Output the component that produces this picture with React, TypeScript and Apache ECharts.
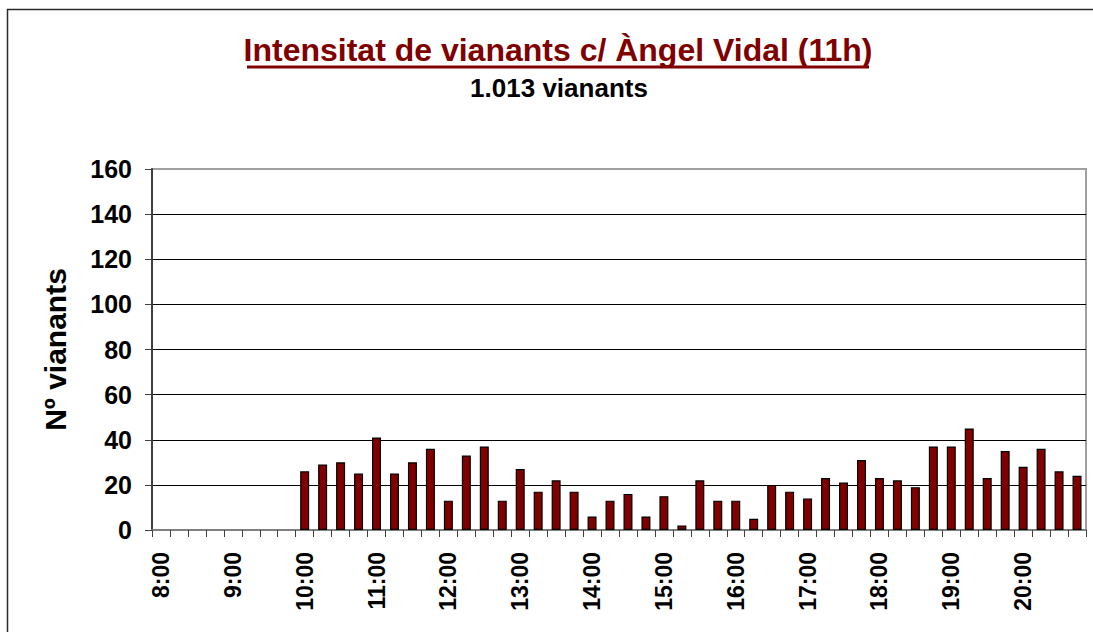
import React, { useEffect, useRef } from "react";
import * as echarts from "echarts";

const hours = ["8", "9", "10", "11", "12", "13", "14", "15", "16", "17", "18", "19", "20"];
const quarters = ["00", "15", "30", "45"];
const categories: string[] = [];
hours.forEach((h) => quarters.forEach((q) => categories.push(`${h}:${q}`)));

// 8:00 - 9:45 : no counts
const earlyValues = [0, 0, 0, 0, 0, 0, 0, 0];
// 10:00 - 20:45
const countedValues = [
  26, 29, 30, 25, 41, 25, 30, 36, 13, 33, 37, 13, 27, 17, 22, 17,
  6, 13, 16, 6, 15, 2, 22, 13, 13, 5, 20, 17, 14, 23, 21, 31,
  23, 22, 19, 37, 37, 45, 23, 35, 28, 36, 26, 24,
];
const values = [...earlyValues, ...countedValues];

const yTicks = [0, 20, 40, 60, 80, 100, 120, 140, 160];

const titleText = "Intensitat de vianants c/ Àngel Vidal (11h)";
const subtitleText = "1.013 vianants";
const yAxisName = "Nº vianants";

const FONT = "'Liberation Sans', Arial, sans-serif";

export default function App() {
  const ref = useRef<HTMLDivElement>(null);

  useEffect(() => {
    if (!ref.current) return;
    const chart = echarts.init(ref.current, undefined, { renderer: "svg" });
    const splitColors = yTicks.map((_, i) => (i === yTicks.length - 1 ? "#a0a0a0" : "#000000"));
    const barData = values.map((v) =>
      v === 0 ? { value: v, itemStyle: { borderWidth: 0 } } : v
    );
    chart.setOption({
      animation: false,
      backgroundColor: "#ffffff",
      textStyle: { fontFamily: FONT },
      grid: {
        left: 152,
        right: 7,
        top: 169,
        bottom: 102,
        show: true,
        borderColor: "#a0a0a0",
        borderWidth: 2,
        backgroundColor: "transparent",
      },
      graphic: [
        {
          type: "rect",
          shape: { x: 7.5, y: 9.5, width: 1200, height: 700 },
          style: { fill: "none", stroke: "#2a2a2a", lineWidth: 1.5 },
          silent: true,
        },
        {
          type: "text",
          x: 558,
          y: 50,
          style: {
            text: titleText,
            fill: "#800000",
            font: `bold 32px ${FONT}`,
            align: "center",
            verticalAlign: "middle",
          },
        },
        {
          type: "line",
          shape: { x1: 247, y1: 67, x2: 869, y2: 67 },
          style: { stroke: "#800000", lineWidth: 3 },
        },
        {
          type: "text",
          x: 559,
          y: 88,
          style: {
            text: subtitleText,
            fill: "#000000",
            font: `bold 26px ${FONT}`,
            align: "center",
            verticalAlign: "middle",
          },
        },
      ],
      xAxis: {
        type: "category",
        data: categories,
        boundaryGap: true,
        axisLine: { lineStyle: { color: "#808080", width: 2 } },
        axisTick: { show: true, interval: 0, length: 7, lineStyle: { color: "#404040", width: 1 } },
        axisLabel: {
          interval: 3,
          rotate: 90,
          margin: 22,
          color: "#000000",
          fontWeight: "bold",
          fontSize: 23,
          fontFamily: FONT,
        },
        splitLine: { show: false },
      },
      yAxis: {
        type: "value",
        min: 0,
        max: 160,
        interval: 20,
        name: yAxisName,
        nameLocation: "middle",
        nameGap: 82,
        nameTextStyle: { color: "#000000", fontWeight: "bold", fontSize: 30, fontFamily: FONT },
        axisLine: { show: true, lineStyle: { color: "#404040", width: 2 } },
        axisTick: { show: true, length: 7, lineStyle: { color: "#404040", width: 1 } },
        axisLabel: {
          margin: 20,
          color: "#000000",
          fontWeight: "bold",
          fontSize: 25,
          fontFamily: FONT,
        },
        splitLine: { show: true, lineStyle: { color: splitColors, width: 1 } },
      },
      series: [
        {
          type: "bar",
          data: barData,
          barWidth: "50%",
          itemStyle: { color: "#800000", borderColor: "#000000", borderWidth: 1.2 },
        },
      ],
    });
    return () => chart.dispose();
  }, []);

  return (
    <div
      ref={ref}
      style={{ position: "fixed", left: 0, top: 0, width: 1093, height: 632, background: "#fff" }}
    />
  );
}
